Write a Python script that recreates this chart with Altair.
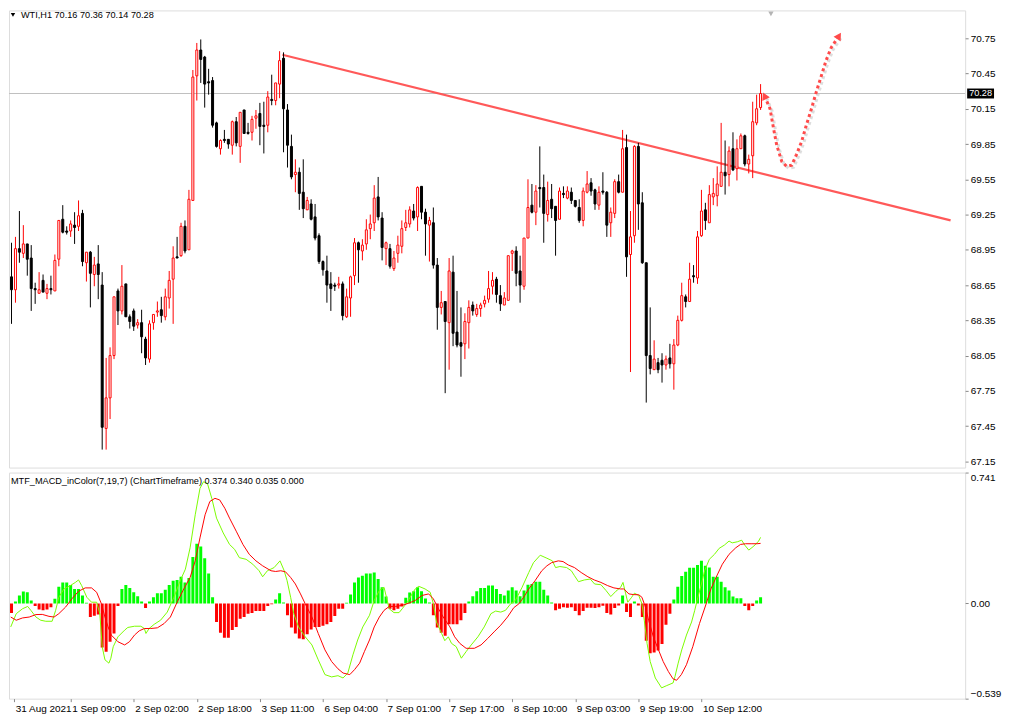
import altair as alt
import pandas as pd

# ---------------- data ----------------
# WTI H1 candles, bars 1..191 (oldest -> newest)
opens = [68.72, 68.61, 68.96, 68.92, 69.00, 68.88, 68.62, 68.58, 68.69, 68.58,
         68.62, 68.60, 68.87, 69.21, 69.11, 69.11, 69.16, 69.15, 69.26, 68.84,
         68.93, 68.74, 68.83, 68.65, 67.43, 67.69, 68.05, 68.60, 68.43, 68.66,
         68.38, 68.43, 68.31, 68.33, 68.19, 68.02, 68.33, 68.42, 68.44, 68.38,
         68.54, 68.70, 68.89, 68.90, 69.15, 68.95, 69.37, 70.43, 70.65, 70.59,
         70.38, 70.39, 70.03, 69.81, 69.89, 69.89, 69.84, 70.04, 69.83, 70.14,
         69.95, 69.95, 70.07, 70.11, 70.01, 70.01, 70.23, 70.22, 70.36, 70.58,
         70.14, 69.83, 69.59, 69.61, 69.44, 69.29, 69.34, 69.23, 69.07, 68.85,
         68.77, 68.66, 68.65, 68.65, 68.66, 68.38, 68.54, 68.73, 69.01, 68.94,
         69.00, 69.13, 69.18, 69.40, 69.22, 68.96, 68.96, 68.79, 68.92, 68.98,
         69.14, 69.17, 69.28, 69.23, 69.49, 69.27, 69.16, 69.18, 68.82, 68.46,
         68.51, 68.33, 68.76, 68.25, 68.16, 68.15, 68.33, 68.48, 68.40, 68.45,
         68.49, 68.53, 68.64, 68.70, 68.56, 68.48, 68.52, 68.92, 68.94, 68.77,
         68.64, 69.05, 69.33, 69.27, 69.48, 69.48, 69.25, 69.38, 69.32, 69.21,
         69.43, 69.39, 69.44, 69.37, 69.31, 69.20, 69.44, 69.52, 69.46, 69.33,
         69.45, 69.44, 69.18, 69.26, 69.53, 69.44, 69.82, 68.91, 69.07, 69.83,
         69.35, 68.84, 68.05, 67.93, 67.99, 68.01, 67.97, 68.03, 67.98, 68.14,
         68.35, 68.55, 68.51, 68.73, 68.71, 69.07, 69.29, 69.18, 69.40, 69.41,
         69.49, 69.61, 69.59, 69.81, 69.64, 69.81, 69.92, 69.68, 69.75, 70.03,
         70.16]
highs = [69.01, 69.06, 69.28, 69.16, 69.00, 68.99, 68.67, 68.76, 68.74, 68.66,
         68.73, 68.91, 69.20, 69.33, 69.15, 69.20, 69.27, 69.37, 69.29, 68.93,
         68.94, 68.89, 68.99, 68.76, 68.03, 68.12, 68.55, 68.62, 68.82, 68.66,
         68.40, 68.45, 68.36, 68.44, 68.21, 68.35, 68.40, 68.51, 68.55, 68.62,
         68.77, 68.98, 69.06, 69.18, 69.20, 69.46, 70.48, 70.71, 70.74, 70.60,
         70.49, 70.42, 70.04, 69.89, 69.97, 69.89, 70.05, 70.08, 70.12, 70.14,
         70.03, 70.09, 70.14, 70.20, 70.21, 70.30, 70.44, 70.37, 70.64, 70.63,
         70.19, 69.93, 69.72, 69.65, 69.72, 69.40, 69.38, 69.34, 69.09, 68.86,
         68.90, 68.76, 68.67, 68.72, 68.68, 68.62, 68.73, 69.05, 69.02, 69.04,
         69.21, 69.25, 69.50, 69.57, 69.27, 69.02, 69.00, 68.94, 69.07, 69.20,
         69.29, 69.32, 69.34, 69.49, 69.49, 69.30, 69.23, 69.31, 68.88, 68.60,
         68.51, 68.88, 68.90, 68.60, 68.46, 68.41, 68.52, 68.51, 68.49, 68.50,
         68.56, 68.77, 68.76, 68.72, 68.65, 68.59, 68.90, 68.95, 68.98, 68.90,
         69.05, 69.55, 69.51, 69.50, 69.83, 69.59, 69.53, 69.51, 69.32, 69.48,
         69.49, 69.49, 69.48, 69.37, 69.38, 69.48, 69.62, 69.56, 69.47, 69.49,
         69.61, 69.45, 69.31, 69.55, 69.59, 69.97, 69.93, 69.28, 69.84, 69.86,
         69.44, 68.84, 68.46, 68.18, 68.03, 68.07, 68.05, 68.15, 68.19, 68.39,
         68.67, 68.57, 68.84, 68.82, 69.11, 69.46, 69.35, 69.50, 69.56, 69.66,
         70.03, 69.88, 69.83, 69.95, 69.89, 69.94, 69.93, 69.76, 70.21, 70.27,
         70.36]
lows = [68.32, 68.50, 68.84, 68.88, 68.73, 68.43, 68.49, 68.58, 68.59, 68.53,
        68.57, 68.60, 68.81, 69.09, 69.08, 69.06, 69.00, 69.11, 68.81, 68.68,
        68.46, 68.64, 68.53, 67.25, 67.25, 67.51, 68.02, 68.31, 68.40, 68.38,
        68.28, 68.26, 68.28, 68.07, 67.97, 67.99, 68.27, 68.38, 68.33, 68.35,
        68.45, 68.32, 68.88, 68.89, 68.92, 68.95, 69.37, 70.22, 70.37, 70.16,
        70.27, 69.99, 69.82, 69.76, 69.86, 69.81, 69.76, 69.83, 69.69, 69.94,
        69.93, 69.88, 69.98, 69.84, 69.77, 69.95, 70.18, 70.18, 70.24, 69.78,
        69.65, 69.55, 69.44, 69.29, 69.22, 69.29, 69.20, 69.03, 68.83, 68.73,
        68.50, 68.43, 68.60, 68.62, 68.35, 68.37, 68.38, 68.65, 68.67, 68.86,
        68.95, 69.04, 69.11, 69.20, 68.86, 68.82, 68.79, 68.77, 68.84, 68.92,
        69.11, 69.14, 69.20, 69.11, 69.21, 68.90, 68.85, 68.79, 68.27, 68.40,
        67.73, 67.93, 68.13, 68.12, 67.87, 68.02, 68.11, 68.39, 68.38, 68.38,
        68.46, 68.50, 68.57, 68.50, 68.43, 68.48, 68.52, 68.77, 68.64, 68.50,
        68.61, 69.05, 69.26, 69.16, 69.31, 69.01, 69.19, 69.22, 68.90, 69.21,
        69.39, 69.38, 69.34, 69.31, 69.18, 69.15, 69.43, 69.41, 69.29, 69.29,
        69.42, 69.06, 69.06, 69.22, 69.43, 69.44, 68.72, 67.91, 69.01, 69.12,
        68.83, 67.65, 67.89, 67.93, 67.90, 67.82, 67.93, 67.94, 67.76, 68.13,
        68.34, 68.46, 68.51, 68.67, 68.66, 69.06, 69.12, 69.18, 69.33, 69.32,
        69.49, 69.42, 69.49, 69.62, 69.54, 69.81, 69.66, 69.60, 69.56, 70.01,
        70.14]
closes = [68.61, 68.96, 68.93, 69.00, 68.87, 68.62, 68.61, 68.61, 68.59, 68.62,
          68.61, 68.86, 69.20, 69.10, 69.10, 69.17, 69.14, 69.24, 68.85, 68.93,
          68.75, 68.82, 68.74, 67.44, 67.69, 68.05, 68.55, 68.43, 68.64, 68.38,
          68.34, 68.30, 68.33, 68.21, 68.03, 68.32, 68.40, 68.43, 68.39, 68.55,
          68.69, 68.88, 68.88, 69.15, 68.94, 69.38, 70.42, 70.65, 70.57, 70.36,
          70.37, 70.01, 69.83, 69.88, 69.88, 69.85, 70.04, 69.86, 70.12, 69.94,
          69.94, 70.06, 70.09, 70.00, 70.00, 70.25, 70.22, 70.37, 70.56, 70.15,
          69.84, 69.57, 69.61, 69.43, 69.30, 69.37, 69.21, 69.05, 68.85, 68.78,
          68.65, 68.62, 68.64, 68.66, 68.39, 68.55, 68.72, 69.01, 68.95, 68.99,
          69.12, 69.17, 69.39, 69.23, 68.97, 69.01, 68.81, 68.88, 68.99, 69.13,
          69.18, 69.29, 69.22, 69.48, 69.27, 69.17, 69.20, 68.82, 68.46, 68.50,
          68.34, 68.77, 68.24, 68.14, 68.13, 68.34, 68.46, 68.43, 68.45, 68.48,
          68.52, 68.62, 68.69, 68.57, 68.49, 68.54, 68.90, 68.94, 68.75, 68.65,
          69.05, 69.31, 69.27, 69.45, 69.47, 69.26, 69.37, 69.30, 69.20, 69.45,
          69.42, 69.45, 69.37, 69.32, 69.20, 69.45, 69.51, 69.45, 69.34, 69.44,
          69.44, 69.16, 69.27, 69.53, 69.44, 69.81, 68.89, 69.06, 69.83, 69.34,
          68.84, 68.05, 67.94, 68.02, 67.93, 67.97, 68.02, 67.98, 68.14, 68.35,
          68.56, 68.51, 68.70, 68.72, 69.06, 69.28, 69.20, 69.42, 69.43, 69.51,
          69.61, 69.58, 69.79, 69.63, 69.81, 69.92, 69.68, 69.72, 70.04, 70.15,
          70.28]

# MACD histogram, one value per bar
hist = [-0.054, 0.011, 0.045, 0.067, 0.063, 0.017, -0.015, -0.035, -0.039, -0.035,
        -0.021, 0.026, 0.095, 0.119, 0.119, 0.105, 0.082, 0.082, 0.045, 0.004,
        -0.077, -0.069, -0.062, -0.250, -0.273, -0.217, -0.170, -0.015, 0.082, 0.105,
        0.088, 0.063, 0.041, 0.011, -0.026, 0.011, 0.035, 0.058, 0.058, 0.078,
        0.105, 0.129, 0.133, 0.151, 0.119, 0.144, 0.263, 0.338, 0.323, 0.256,
        0.170, 0.035, -0.105, -0.166, -0.194, -0.194, -0.151, -0.133, -0.086, -0.077,
        -0.058, -0.054, -0.043, -0.043, -0.043, -0.015, -0.004, 0.022, 0.058, 0.006,
        -0.067, -0.136, -0.170, -0.198, -0.203, -0.174, -0.147, -0.133, -0.133, -0.127,
        -0.118, -0.105, -0.071, -0.030, -0.030, 0.004, 0.050, 0.119, 0.147, 0.157,
        0.170, 0.170, 0.175, 0.138, 0.091, 0.039, -0.030, -0.039, -0.030, -0.017,
        0.032, 0.062, 0.069, 0.091, 0.069, 0.028, 0.006, -0.067, -0.136, -0.166,
        -0.183, -0.118, -0.118, -0.118, -0.095, -0.054, 0.011, 0.041, 0.069, 0.088,
        0.088, 0.101, 0.101, 0.082, 0.054, 0.045, 0.073, 0.091, 0.073, 0.041,
        0.073, 0.106, 0.110, 0.123, 0.123, 0.078, 0.045, 0.006, -0.039, -0.030,
        -0.021, -0.024, -0.021, -0.043, -0.067, -0.043, -0.024, -0.024, -0.026, -0.021,
        -0.013, -0.054, -0.062, -0.026, -0.011, 0.045, -0.049, -0.077, 0.011, -0.011,
        -0.077, -0.211, -0.282, -0.278, -0.267, -0.230, -0.121, -0.058, 0.022, 0.095,
        0.155, 0.179, 0.202, 0.202, 0.217, 0.241, 0.213, 0.203, 0.151, 0.151,
        0.123, 0.091, 0.073, 0.039, 0.030, 0.030, -0.015, -0.039, -0.015, 0.017,
        0.035]

# MACD main line (green), read at bar positions
macd_k = [0.8, 2.2, 3.8, 5.1, 5.9, 7.2, 8.4, 9.7, 11.3, 12.2, 13.0, 14.3, 15.9, 17.2, 18.0,
          18.8, 20.1, 21.3, 22.6, 23.4, 24.0, 24.7, 25.7, 26.2, 26.8, 28.0, 29.7, 30.5, 32.2,
          33.8, 34.7, 35.1, 35.9, 37.2, 38.8, 40.5, 42.2, 43.8, 45.1, 46.3, 47.6, 48.8, 49.7,
          50.7, 51.8, 53.0, 54.7, 56.3, 57.6, 58.8, 60.5, 62.2, 63.8, 64.7, 65.9, 67.6, 69.1,
          70.1, 70.9, 71.8, 72.6, 73.8, 75.5, 77.2, 78.8, 80.5, 82.2, 83.8, 85.1, 86.3, 87.6,
          88.8, 90.1, 91.8, 93.0, 94.3, 95.5, 96.8, 98.0, 99.3, 100.1, 101.4, 102.6, 103.4,
          104.3, 105.9, 107.2, 108.0, 108.8, 110.1, 110.9, 111.8, 112.6, 113.8, 115.1, 116.3,
          117.6, 119.3, 120.9, 122.6, 123.8, 125.1, 126.3, 127.6, 128.8, 130.5, 132.2, 133.4,
          135.1, 136.8, 138.2, 139.0, 140.1, 141.8, 143.0, 143.8, 144.8, 146.3, 147.8, 148.9,
          150.5, 151.8, 153.0, 154.3, 155.5, 156.1, 156.8, 157.3, 158.2, 159.0, 160.1, 160.9,
          161.5, 162.2, 163.0, 164.3, 165.9, 167.2, 168.8, 169.3, 170.1, 171.0, 172.2, 173.5,
          174.3, 175.1, 176.0, 176.8, 178.0, 179.3, 180.5, 181.8, 183.0, 183.8, 185.1, 186.2,
          187.0, 188.0, 189.3, 190.5, 191.0]
macd_v = [-0.133, -0.058, -0.030, -0.017, -0.039, -0.077, -0.095, -0.101, -0.101, -0.039,
          0.035, 0.082, 0.101, 0.119, 0.133, 0.101, 0.035, 0.007, 0.007, -0.058, -0.245,
          -0.319, -0.338, -0.310, -0.245, -0.189, -0.151, -0.136, -0.129, -0.129, -0.142,
          -0.170, -0.142, -0.118, -0.095, -0.049, 0.035, 0.129, 0.194, 0.315, 0.502, 0.651,
          0.689, 0.679, 0.595, 0.483, 0.399, 0.334, 0.306, 0.259, 0.250, 0.222, 0.185, 0.151,
          0.185, 0.203, 0.241, 0.189, 0.129, 0.035, -0.058, -0.133, -0.189, -0.235, -0.319,
          -0.403, -0.416, -0.409, -0.422, -0.394, -0.291, -0.207, -0.133, -0.067, 0.017,
          0.073, 0.091, -0.030, -0.052, -0.052, -0.030, 0.007, 0.054, 0.082, 0.097, 0.082,
          0.063, -0.002, -0.105, -0.170, -0.211, -0.189, -0.226, -0.245, -0.310, -0.273,
          -0.235, -0.189, -0.133, -0.058, -0.043, -0.049, -0.039, -0.002, 0.017, 0.091, 0.175,
          0.231, 0.273, 0.256, 0.241, 0.203, 0.209, 0.203, 0.185, 0.157, 0.123, 0.133, 0.138,
          0.110, 0.106, 0.073, 0.039, 0.069, 0.091, 0.119, 0.054, 0.007, 0.032, 0.058, 0.045,
          -0.002, -0.095, -0.226, -0.329, -0.422, -0.478, -0.465, -0.450, -0.413, -0.338,
          -0.263, -0.179, -0.105, -0.039, 0.035, 0.110, 0.185, 0.250, 0.278, 0.312, 0.330,
          0.353, 0.343, 0.349, 0.358, 0.330, 0.302, 0.325, 0.353, 0.374]

# signal line (red)
sig_k = [0.8, 2.2, 3.8, 5.5, 7.2, 8.8, 10.5, 11.8, 13.0, 14.7, 16.3, 18.0, 19.7, 21.3, 22.6,
         23.8, 24.7, 25.5, 26.3, 28.0, 29.7, 30.9, 32.2, 33.4, 34.7, 36.3, 38.0, 39.7, 41.3,
         43.0, 44.7, 46.3, 47.6, 48.8, 50.1, 51.3, 52.6, 53.8, 55.1, 56.3, 58.0, 59.7, 61.3,
         63.0, 64.7, 66.8, 68.0, 69.3, 70.5, 71.8, 73.0, 74.3, 75.5, 77.2, 78.8, 80.5, 82.2,
         83.8, 85.1, 86.8, 88.0, 89.3, 90.5, 91.8, 93.0, 94.3, 95.5, 96.8, 98.4, 100.1, 101.8,
         103.4, 105.1, 106.8, 108.0, 109.3, 110.5, 112.2, 113.4, 114.7, 116.3, 118.4, 120.1,
         121.8, 123.4, 125.1, 126.8, 128.4, 129.7, 130.9, 132.2, 133.8, 135.5, 136.8, 138.0,
         139.7, 140.9, 142.2, 143.8, 145.5, 147.2, 148.8, 150.5, 152.2, 153.8, 155.5, 156.3,
         157.6, 158.8, 160.1, 160.9, 161.8, 162.6, 163.8, 165.1, 166.3, 167.6, 168.8, 169.7,
         170.9, 172.2, 173.8, 175.5, 177.2, 178.4, 179.7, 181.3, 183.0, 184.7, 185.9, 187.2,
         188.8, 190.1, 191.0]
sig_v = [-0.077, -0.095, -0.082, -0.077, -0.063, -0.062, -0.073, -0.077, -0.058, -0.021,
         0.026, 0.069, 0.088, 0.088, 0.063, -0.002, -0.077, -0.133, -0.179, -0.217, -0.235,
         -0.217, -0.179, -0.155, -0.142, -0.142, -0.138, -0.114, -0.077, 0.007, 0.082, 0.147,
         0.241, 0.371, 0.502, 0.577, 0.595, 0.586, 0.539, 0.483, 0.409, 0.334, 0.278, 0.241,
         0.213, 0.185, 0.181, 0.185, 0.179, 0.147, 0.110, 0.054, -0.002, -0.077, -0.170,
         -0.263, -0.329, -0.370, -0.394, -0.403, -0.375, -0.338, -0.273, -0.207, -0.133,
         -0.077, -0.039, -0.017, -0.017, -0.011, 0.002, 0.017, 0.045, 0.054, 0.026, -0.030,
         -0.077, -0.133, -0.189, -0.226, -0.254, -0.254, -0.235, -0.198, -0.161, -0.123,
         -0.077, -0.024, -0.002, 0.035, 0.082, 0.129, 0.185, 0.213, 0.231, 0.241, 0.237,
         0.218, 0.203, 0.175, 0.151, 0.133, 0.119, 0.101, 0.088, 0.082, 0.082, 0.054, 0.050,
         0.049, 0.035, -0.021, -0.095, -0.189, -0.263, -0.329, -0.385, -0.427, -0.435,
         -0.403, -0.347, -0.245, -0.114, -0.002, 0.082, 0.147, 0.222, 0.278, 0.315, 0.334,
         0.338, 0.338, 0.338, 0.340]

price_ticks = [67.15, 67.45, 67.75, 68.05, 68.35, 68.65, 68.95, 69.25, 69.55, 69.85,
               70.15, 70.45, 70.75]
macd_ticks = [0.741, 0.0, -0.539]
time_k = [1.7, 16, 32, 48, 64, 80, 96, 112, 128, 144, 160, 176]
time_labels = ["31 Aug 2021", "1 Sep 09:00", "2 Sep 02:00", "2 Sep 18:00", "3 Sep 11:00",
               "6 Sep 04:00", "7 Sep 01:00", "7 Sep 17:00", "8 Sep 10:00", "9 Sep 03:00",
               "9 Sep 19:00", "10 Sep 12:00"]

# drawn objects
trend_k = [69.7, 239.2]
trend_p = [70.61, 69.20]
arrow_k = [192.0, 193.4, 194.3, 195.1, 196.4, 197.6, 198.9, 200.1, 201.4, 202.6, 203.9,
           205.1, 206.4, 207.6, 208.9, 210.9]
arrow_p = [70.26, 70.15, 69.98, 69.84, 69.70, 69.66, 69.67, 69.76, 69.87, 70.01, 70.15,
           70.29, 70.43, 70.56, 70.67, 70.77]
head_k = [192.0, 210.9]
head_p = [70.26, 70.77]
head_angle = [335, 32]
bid = closes[-1]

# colours
BULL = "#FF0000"
BEAR = "#000000"
HIST_UP = "#00FF00"
HIST_DN = "#FF0000"

# ---------------- build ----------------
FONT = "Liberation Sans"
FS = 9.2
W = 960
XDOM = [1.625, 241.625]
xs = alt.Scale(domain=XDOM, nice=False, zero=False)
ys = alt.Scale(domain=[67.097, 70.987], nice=False, zero=False)
ms = alt.Scale(domain=[-0.539, 0.741], nice=False, zero=False)

n = len(opens)
cd = pd.DataFrame({"k": list(range(1, n + 1)), "o": opens, "h": highs, "l": lows, "c": closes})
cd["bl"] = cd[["o", "c"]].min(axis=1)
cd["bh"] = cd[["o", "c"]].max(axis=1)
up = [c > o for o, c in zip(cd["o"], cd["c"])]
cd["col"] = [BULL if u else BEAR for u in up]
cd["fil"] = ["#FFFFFF" if u else BEAR for u in up]

price_axis = alt.Axis(orient="right", values=price_ticks, format=".2f", title=None,
                      grid=False, domain=False, tickSize=3, labelPadding=2)
no_x = alt.Axis(values=[], labels=False, ticks=False, domain=False, grid=False, title=None)

X = lambda f="k:Q": alt.X(f, scale=xs, axis=no_x)
Y = lambda f: alt.Y(f, scale=ys, axis=price_axis)

bidline = alt.Chart(pd.DataFrame({"p": [bid]})).mark_rule(color="#C0C0C0", strokeWidth=1).encode(
    y=Y("p:Q"))

wicks = alt.Chart(cd).mark_rule(strokeWidth=1, clip=True).encode(
    x=X(), y=Y("l:Q"), y2="h:Q", color=alt.Color("col:N", scale=None))

bodies = alt.Chart(cd).mark_bar(size=2, strokeWidth=1, clip=True).encode(
    x=X(), y=Y("bl:Q"), y2="bh:Q",
    fill=alt.Fill("fil:N", scale=None), stroke=alt.Stroke("col:N", scale=None))

trend = alt.Chart(pd.DataFrame({"k": trend_k, "p": trend_p})).mark_line(
    color="#FF5050", strokeWidth=2.2, opacity=0.95).encode(x=X(), y=Y("p:Q"))

adf = pd.DataFrame({"k": arrow_k, "p": arrow_p, "i": list(range(len(arrow_k)))})
arrow_shadow = alt.Chart(adf).mark_line(color="#BBBBBB", strokeWidth=3, strokeDash=[3, 3],
                                        opacity=0.5, xOffset=2, yOffset=2).encode(
    x=X(), y=Y("p:Q"), order="i:Q")
arrow = alt.Chart(adf).mark_line(color="#FF4A4A", strokeWidth=3, strokeDash=[3, 3]).encode(
    x=X(), y=Y("p:Q"), order="i:Q")
heads = alt.Chart(pd.DataFrame({"k": head_k, "p": head_p, "a": head_angle})).mark_point(
    shape="triangle-up", filled=True, size=70, color="#FF4A4A", opacity=1).encode(
    x=X(), y=Y("p:Q"), angle=alt.Angle("a:Q", scale=None))

bid_box = alt.Chart(pd.DataFrame({"p": [bid]})).mark_rect(color="black", yOffset=-5, y2Offset=5).encode(
    x=alt.value(962), x2=alt.value(989), y=Y("p:Q"), y2="p:Q")
bid_txt = alt.Chart(pd.DataFrame({"p": [bid], "t": [f"{bid:.2f}"]})).mark_text(
    color="white", align="left", baseline="middle", font=FONT, fontSize=FS).encode(
    x=alt.value(964), y=Y("p:Q"), text="t:N")

header = f"WTI,H1  {opens[-1]:.2f} {highs[-1]:.2f} {lows[-1]:.2f} {closes[-1]:.2f}"
hdr_tri = alt.Chart(pd.DataFrame({"a": [0]})).mark_point(
    shape="triangle-down", filled=True, size=20, color="black", opacity=1).encode(
    x=alt.value(4), y=alt.value(4.5))
hdr_txt = alt.Chart(pd.DataFrame({"t": [header]})).mark_text(
    align="left", baseline="middle", font=FONT, fontSize=FS, color="black").encode(
    x=alt.value(12), y=alt.value(4.5), text="t:N")
shift_tri = alt.Chart(pd.DataFrame({"a": [0]})).mark_point(
    shape="triangle-down", filled=True, size=28, color="#B4B4B4", opacity=1).encode(
    x=alt.value(765), y=alt.value(3.5))

main = alt.layer(bidline, trend, wicks, bodies, arrow_shadow, arrow, heads, bid_box, bid_txt,
                 hdr_tri, hdr_txt, shift_tri).properties(width=W, height=459)

# ---- MACD panel ----
hd = pd.DataFrame({"k": list(range(1, n + 1)), "v": hist})
hd["z"] = 0.0
hd["col"] = [HIST_UP if v >= 0 else HIST_DN for v in hist]

label_expr = ("[" + ",".join("'" + s + "'" for s in time_labels) + "][indexof(["
              + ",".join(str(v) for v in time_k) + "], datum.value)]")
time_axis = alt.Axis(values=time_k, labelExpr=label_expr, labelAlign="left", title=None,
                     grid=False, domain=False, tickSize=3, labelPadding=2, labelOffset=1,
                     labelFlush=False, labelOverlap=False)
macd_axis = alt.Axis(orient="right", values=macd_ticks, title=None, grid=False, domain=False,
                     tickSize=3, labelPadding=2, labelFlush=True,
                     labelExpr="datum.value == 0 ? '0.00' : format(datum.value, '.3f')")
MX = lambda: alt.X("k:Q", scale=xs, axis=time_axis)
MY = lambda f: alt.Y(f, scale=ms, axis=macd_axis)

hbars = alt.Chart(hd).mark_bar(size=3, clip=True).encode(
    x=MX(), y=MY("v:Q"), y2="z:Q", color=alt.Color("col:N", scale=None))
gline = alt.Chart(pd.DataFrame({"k": macd_k, "v": macd_v})).mark_line(
    color="#7CFC00", strokeWidth=1, clip=True).encode(x=MX(), y=MY("v:Q"))
rline = alt.Chart(pd.DataFrame({"k": sig_k, "v": sig_v})).mark_line(
    color="#FF0000", strokeWidth=1, clip=True).encode(x=MX(), y=MY("v:Q"))

macd_header = (f"MTF_MACD_inColor(7,19,7) (ChartTimeframe) {macd_v[-1]:.3f} {sig_v[-1]:.3f} "
               f"{hist[-1]:.3f} 0.000")
mhdr = alt.Chart(pd.DataFrame({"t": [macd_header]})).mark_text(
    align="left", baseline="middle", font=FONT, fontSize=FS, color="black").encode(
    x=alt.value(2), y=alt.value(8), text="t:N")

macd = alt.layer(hbars, gline, rline, mhdr).properties(width=W, height=227)

chart = alt.vconcat(main, macd, spacing=3).properties(
    padding={"left": 0, "top": 0, "right": 0, "bottom": 0}
).configure_view(stroke="black", strokeWidth=1).configure_axis(
    labelFont=FONT, labelFontSize=FS, labelColor="black", tickColor="black"
).configure(background="white")

chart.save("out.html", embed_options={"renderer": "svg", "actions": False})
